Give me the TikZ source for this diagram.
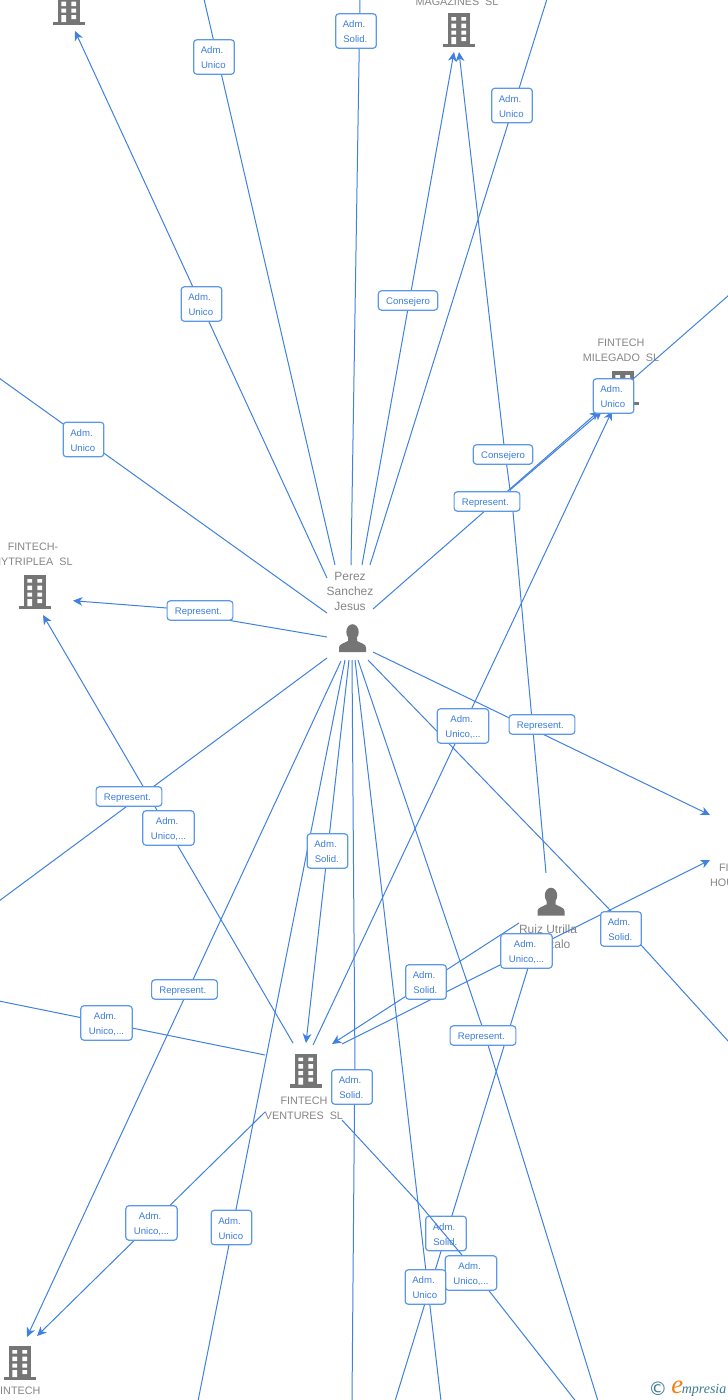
\documentclass[tikz,border=0pt]{standalone}
\usepackage{fontspec}
\setmainfont{Liberation Sans}
\newfontfamily\logofont{Liberation Serif}
\newfontfamily\symfont{DejaVu Sans}
\usetikzlibrary{arrows.meta}
\definecolor{edgeblue}{HTML}{3F80E0}
\definecolor{boxblue}{HTML}{5C98EA}
\definecolor{textblue}{HTML}{3B7DDD}
\definecolor{icongrey}{HTML}{757575}
\definecolor{namegrey}{HTML}{858585}
\definecolor{logoteal}{HTML}{3A7A92}
\definecolor{logoorange}{HTML}{F08010}
\tikzset{
  x=0.75pt,y=-0.75pt,
  conn/.style={draw=edgeblue,line width=0.75pt},
  conntip/.style={conn,-{Stealth[length=7pt,width=6.5pt,inset=2pt]}},
  lab/.style={draw=boxblue,line width=0.9pt,fill=white,rounded corners=2.3pt,text=textblue,
    inner sep=0pt,align=center,font=\fontsize{7.2pt}{11.25pt}\selectfont},
  adm/.style={lab,minimum width=30.5pt,minimum height=25.8pt},
  admw/.style={lab,minimum width=38.5pt,minimum height=25.8pt},
  rep/.style={lab,minimum width=49.3pt,minimum height=14.5pt},
  cons/.style={lab,minimum width=44.5pt,minimum height=14.5pt},
  coname/.style={text=namegrey,inner sep=0pt,align=center,font=\fontsize{8.1pt}{11.25pt}\selectfont},
  pername/.style={text=namegrey,inner sep=0pt,align=center,font=\fontsize{9pt}{11.25pt}\selectfont},
  bldg/.pic={
    \fill[icongrey] (-11,-17) rectangle (11,15);
    \fill[icongrey] (-16,13.5) rectangle (16,17);
    \fill[white] (-7.7,-13) rectangle (-3,-9.3) (2.3,-13) rectangle (7,-9.3)
      (-7.7,-6.3) rectangle (-3,-2) (2.3,-6.3) rectangle (7,-2)
      (-7.7,0.7) rectangle (-3,4.7) (2.3,0.7) rectangle (7,4.7)
      (-7.7,7) rectangle (-3,14) (2.3,7) rectangle (7,11);
  },
  pers/.pic={
    \fill[icongrey] (0,-6.5) ellipse [x radius=6.2,y radius=7.8];
    \fill[icongrey] (-13.5,13.5) -- (-13.5,9) .. controls (-13.5,5.5) and (-8,4.5) .. (-4.5,2.5)
      -- (-4.5,-1) -- (4.5,-1) -- (4.5,2.5) .. controls (8,4.5) and (13.5,5.5) .. (13.5,9) -- (13.5,13.5) -- cycle;
  },
}
\newcommand{\lineshift}[1]{\raisebox{-0.75pt}[\height][\depth]{#1}}
\newcommand{\admunico}{\lineshift{Adm.\kern3pt}\\\lineshift{Unico\kern1pt}}
\newcommand{\admsolid}{\lineshift{Adm.\kern3pt}\\\lineshift{Solid.\kern1pt}}
\newcommand{\admuni}{\lineshift{Adm.\kern2pt}\\\lineshift{Unico,...}}
\newcommand{\represent}{\raisebox{-1.1pt}[\height][\depth]{Represent.\kern2.5pt}}
\newcommand{\consejero}{\raisebox{-1.1pt}[\height][\depth]{Consejero}}
\begin{document}
\begin{tikzpicture}
\useasboundingbox (0,0) rectangle (728,1400);
% connector ends
\coordinate (pa) at (327,578);   \coordinate (ta) at (75,31);
\coordinate (pb) at (335,565);   \coordinate (tb) at (204,-1);
\coordinate (pc) at (351,565);   \coordinate (tc) at (360,-1);
\coordinate (pd) at (362,565);   \coordinate (td) at (454,52);
\coordinate (pe) at (370,565);   \coordinate (te) at (547,-1);
\coordinate (pf) at (373,609);   \coordinate (tf) at (599,411);
\coordinate (hf) at (510,490);   \coordinate (tg) at (602,411);
\coordinate (ph) at (327,613);   \coordinate (th) at (-1,378);
\coordinate (pi) at (327,637);   \coordinate (ji) at (233,621);
\coordinate (ki) at (167,608);   \coordinate (ti) at (73,600.7);
\coordinate (pj) at (327,658);   \coordinate (tj) at (-1,901);
\coordinate (pk) at (373,652);   \coordinate (tk) at (710,815);
\coordinate (pl) at (368,660);   \coordinate (jl) at (610,910);
\coordinate (kl) at (642,946);   \coordinate (tl) at (729,1042);
\coordinate (pm) at (358,660);   \coordinate (jm) at (482,1026);
\coordinate (km) at (488,1045);  \coordinate (tm) at (598,1401);
\coordinate (pn) at (341,661);   \coordinate (tn) at (27,1337);
\coordinate (po) at (345,660);   \coordinate (to) at (198,1401);
\coordinate (pq) at (349,660);   \coordinate (tq) at (306,1043);
\coordinate (pr) at (352,660);   \coordinate (jr) at (355,1070);
\coordinate (kr) at (354.5,1104);\coordinate (tr) at (352,1401);
\coordinate (ps) at (355,660);   \coordinate (ts) at (441,1401);
\coordinate (ra) at (546,873);   \coordinate (ja) at (513,512);
\coordinate (ka) at (504,445);   \coordinate (ua) at (459,52);
\coordinate (rb) at (519,923);   \coordinate (ub) at (332,1044);
\coordinate (vc) at (342,1044);  \coordinate (uc) at (710,860);
\coordinate (rd) at (528,968);   \coordinate (ud) at (395,1401);
\coordinate (ve) at (265,1055);  \coordinate (ue) at (-1,1001);
\coordinate (vf) at (265,1112);  \coordinate (uf) at (37,1336);
\coordinate (vg) at (342,1120);  \coordinate (jg) at (416,1200);
\coordinate (kg) at (462,1255);  \coordinate (lg) at (490,1292);
\coordinate (ug) at (578,1404);
\coordinate (vh) at (313,1045);  \coordinate (uh) at (612,411);
\coordinate (vi) at (293,1043);  \coordinate (ui) at (43,615);
\coordinate (mj) at (729,295);   \coordinate (uj) at (633,379);
% icons
\pic (bldga) at (69,8) {bldg};
\pic (bldgb) at (459,30) {bldg};
\pic (bldgc) at (623,388) {bldg};
\pic (bldgd) at (35,592) {bldg};
\pic (bldge) at (306,1070.5) {bldg};
\pic (bldgf) at (20,1363) {bldg};
\pic (persa) at (352.5,638.5) {pers};
\pic (persb) at (551,902) {pers};
% names
\node[coname] (nmag) at (457,-6) {FINTECH\\MAGAZINES\ \ SL};
\node[coname] (nmil) at (621,350.5) {FINTECH\\MILEGADO\ \ SL};
\node[coname] (nsky) at (33,554) {FINTECH-\\NYTRIPLEA\ \ SL};
\node[coname] (nven) at (304,1108) {FINTECH\\VENTURES\ \ SL};
\node[coname,anchor=north] (nbot) at (17,1387) {FINTECH};
\node[coname] (nhou) at (742.5,875.5) {FINTECH\\HOUSES\ \ SL};
\node[pername] (nper) at (350,591) {Perez\\Sanchez\\Jesus};
\node[pername] (nrui) at (548,936.5) {Ruiz Utrilla\\Gonzalo};
% connectors
\draw[conntip] (pa) -- (ta);
\draw[conn] (pb) -- (tb);
\draw[conn] (pc) -- (tc);
\draw[conntip] (pd) -- (td);
\draw[conn] (pe) -- (te);
\draw[conntip] (pf) -- (tf);
\draw[conntip] (hf) -- (tg);
\draw[conn] (ph) -- (th);
\draw[conntip] (pi) -- (ji) -- (ki) -- (ti);
\draw[conn] (pj) -- (tj);
\draw[conntip] (pk) -- (tk);
\draw[conn] (pl) -- (jl) -- (kl) -- (tl);
\draw[conn] (pm) -- (jm) -- (km) -- (tm);
\draw[conntip] (pn) -- (tn);
\draw[conn] (po) -- (to);
\draw[conntip] (pq) -- (tq);
\draw[conn] (pr) -- (jr) -- (kr) -- (tr);
\draw[conn] (ps) -- (ts);
\draw[conntip] (ra) -- (ja) -- (ka) -- (ua);
\draw[conntip] (rb) -- (ub);
\draw[conntip] (vc) -- (uc);
\draw[conn] (rd) -- (ud);
\draw[conn] (ve) -- (ue);
\draw[conntip] (vf) -- (uf);
\draw[conntip] (vh) -- (uh);
\draw[conntip] (vi) -- (ui);
\draw[conn] (mj) -- (uj);
% labels
\node[adm] (la) at (214,57) {\admunico};
\node[adm] (lb) at (356,31) {\admsolid};
\node[adm] (lc) at (512,105.5) {\admunico};
\node[adm] (ld) at (201.5,304) {\admunico};
\node[cons] (le) at (408,300.5) {\consejero};
\node[adm] (lf) at (613.5,396) {\admunico};
\node[cons] (lg2) at (503,454.5) {\consejero};
\node[rep] (lh) at (487,501.5) {\represent};
\node[adm] (li) at (83.5,439.5) {\admunico};
\node[rep] (lj) at (200,610.5) {\represent};
\node[admw] (lk) at (463,726) {\admuni};
\node[rep] (ll) at (542,724.5) {\represent};
\node[rep] (lm) at (129,796.5) {\represent};
\node[admw] (ln) at (168.5,828) {\admuni};
\node[adm] (lo) at (327.5,851) {\admsolid};
\node[adm] (lp) at (621,929) {\admsolid};
\node[admw] (lq) at (526.5,951) {\admuni};
\node[adm] (lr) at (426,982) {\admsolid};
\node[rep] (ls) at (184.5,989.5) {\represent};
\node[admw] (lt) at (106.5,1023) {\admuni};
\node[rep] (lu) at (483,1035.5) {\represent};
\node[adm] (lv) at (352,1087) {\admsolid};
\node[admw] (lw) at (151.5,1223) {\admuni};
\node[adm] (lx) at (231.5,1227.5) {\admunico};
\node[adm] (ly) at (446,1233.5) {\admsolid};
\draw[conn] (vg) -- (jg) -- (kg) -- (lg) -- (ug);
\node[admw] (lz) at (471,1273) {\admuni};
\node[adm] (lzz) at (425.5,1287) {\admunico};
% logo
\node[inner sep=0pt,text=logoteal,font=\symfont\fontsize{14pt}{14pt}\selectfont] (logoc) at (658,1389) {©};
\node[inner sep=0pt,anchor=base west,font=\logofont\itshape\fontsize{10.5pt}{12pt}\selectfont,text=logoteal] (logot) at (671,1393)
  {{\color{logoorange}\fontsize{20pt}{20pt}\selectfont e}\kern-1pt mpresia};
\end{tikzpicture}
\end{document}
